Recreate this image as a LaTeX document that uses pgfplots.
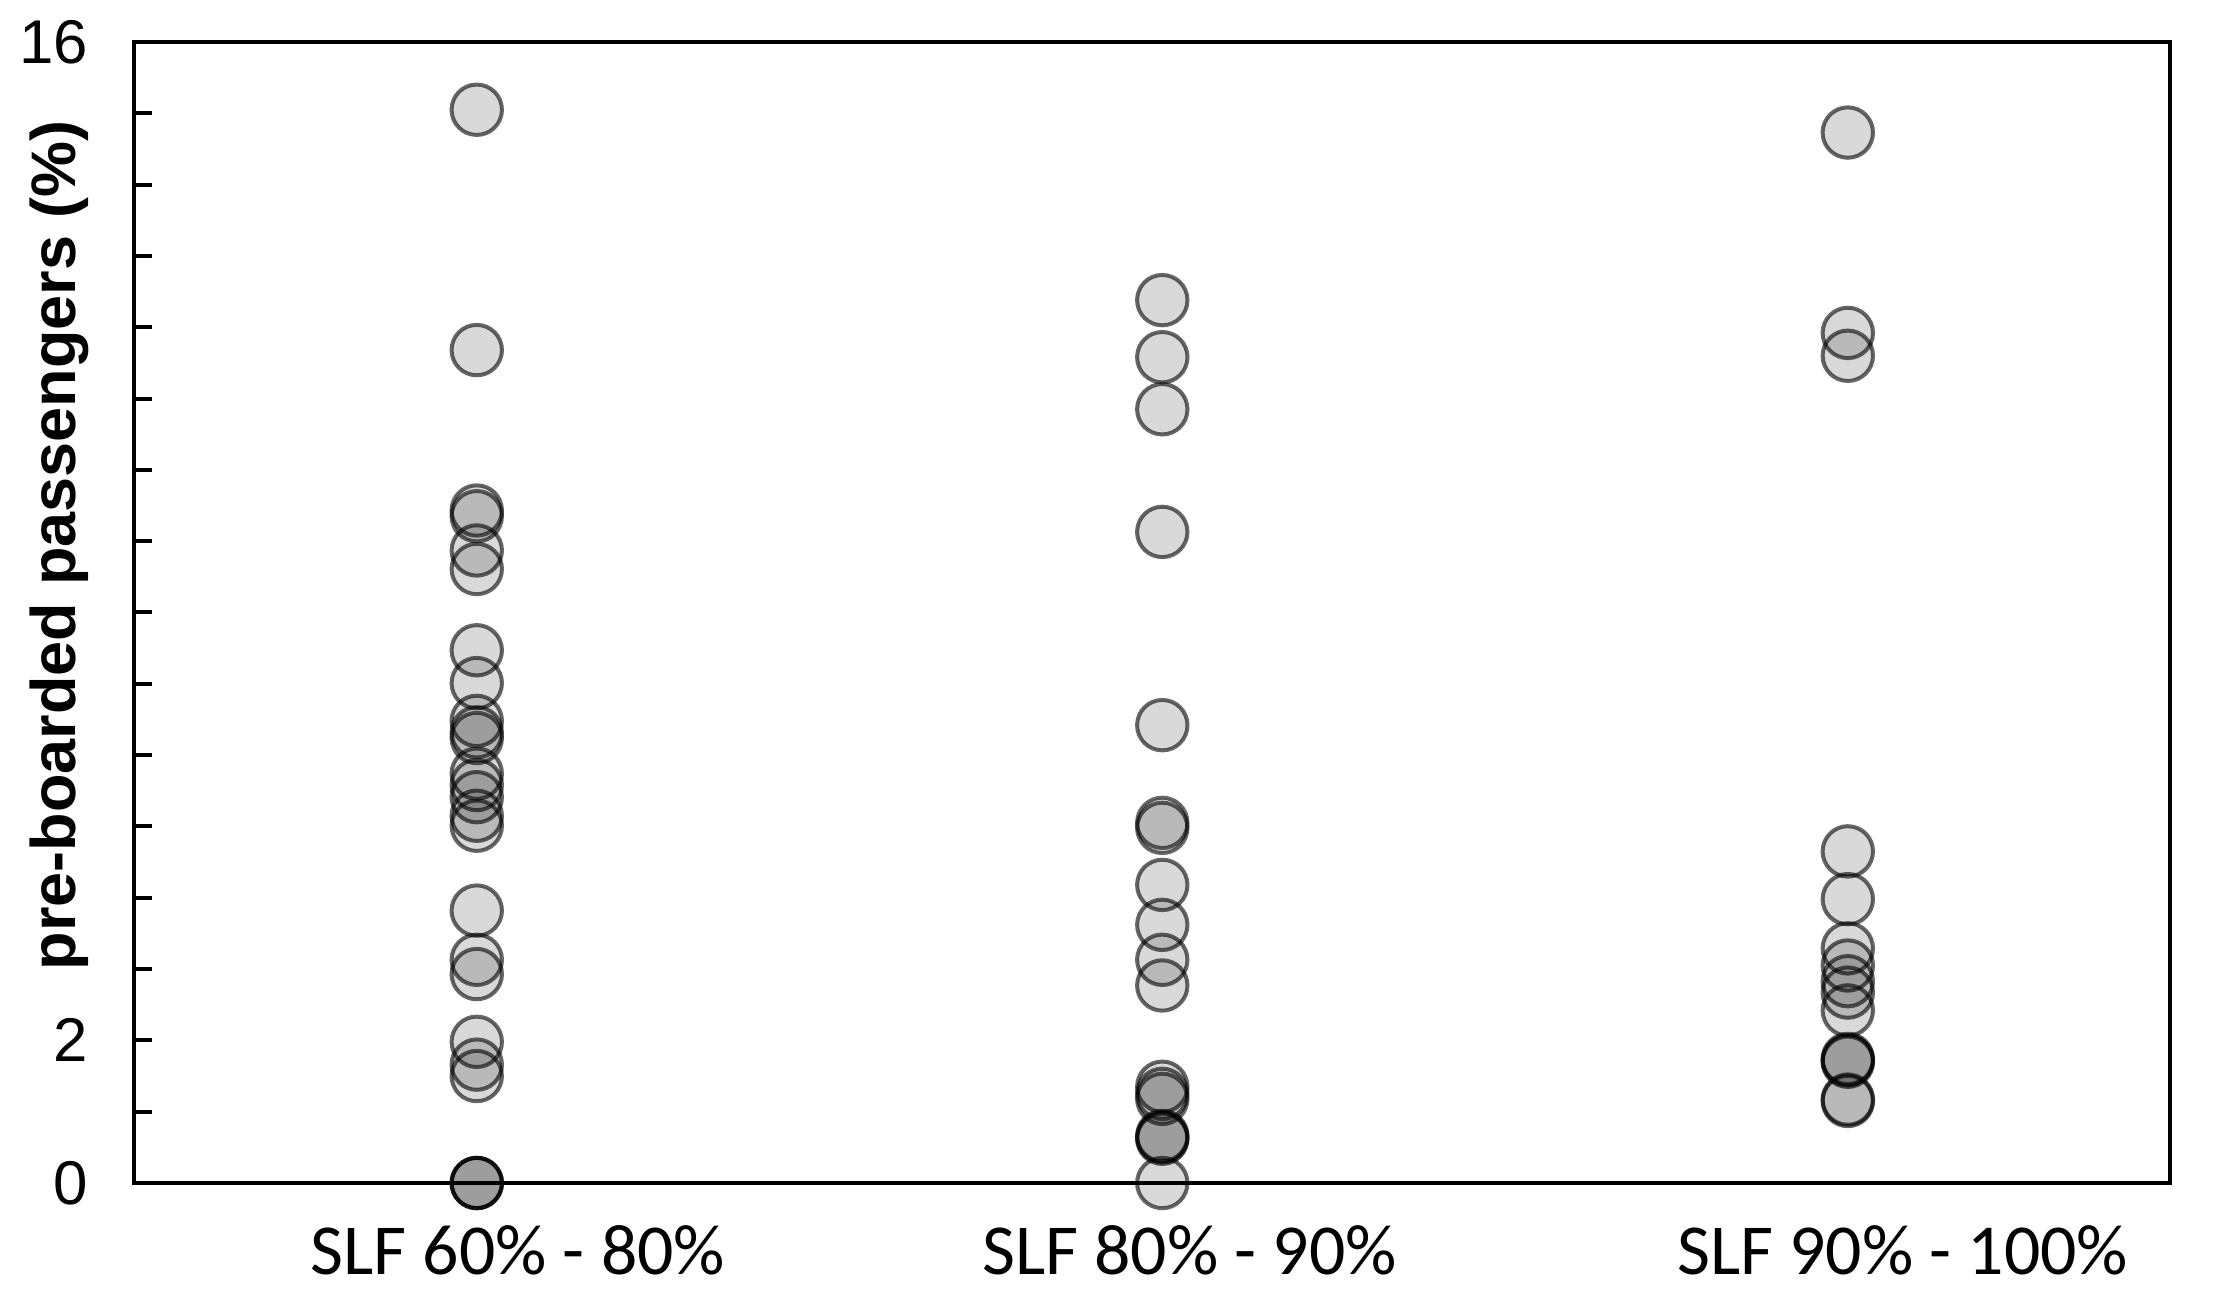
\documentclass[border=0pt]{standalone}
\usepackage{pgfplots}
\pgfplotsset{compat=1.18}
\usepackage{fontspec}
\setmainfont{Liberation Sans}
\newfontfamily\carlito{Carlito}
\pgfplotsset{pt/.style={only marks, mark=*, mark size=6.3bp,
  mark options={fill=black, fill opacity=0.15, draw=black, draw opacity=0.6, line width=1bp}}}
\begin{document}
\begin{tikzpicture}
\begin{axis}[
  scale only axis,
  width=509bp, height=285.25bp,
  xmin=0.5, xmax=3.47,
  ymin=0, ymax=16,
  clip=false,
  axis on top,
  axis line style={line width=1.1bp},
  xtick={1.06,2.04,3.08},
  xticklabels={SLF 60\% - 80\%, SLF 80\% - 90\%, SLF 90\% - 100\%},
  xtick style={draw=none},
  xticklabel style={font=\carlito\fontsize{18}{20}\selectfont, yshift=-7bp},
  ytick={0,1,...,16},
  yticklabels={0,,2,,,,,,,,,,,,,,16},
  ytick pos=left,
  tick align=inside,
  major tick length=4.5bp,
  ytick style={line width=1bp, black},
  yticklabel style={font=\fontsize{15.5}{17}\selectfont, xshift=-8bp},
  /pgf/number format/assume math mode=true,
  ylabel={pre-boarded passengers (\%)},
  ylabel style={at={(axis description cs:-0.0368,0.559)}, anchor=center, font=\bfseries\fontsize{15.8}{18}\selectfont},
]
\addplot[pt] coordinates {
(1,15.05) (1,11.68) (1,9.43) (1,9.35) (1,8.87) (1,8.61) (1,7.47) (1,7.01)
(1,6.48) (1,6.32) (1,6.24) (1,5.74) (1,5.58) (1,5.41) (1,5.15) (1,5.01)
(1,3.82) (1,3.13) (1,2.93) (1,1.98) (1,1.66) (1,1.5) (1,0) (1,0) (1,0)
};
\addplot[pt] coordinates {
(2,12.38) (2,11.58) (2,10.85) (2,9.13) (2,6.42) (2,5.05) (2,4.98) (2,4.18)
(2,3.62) (2,3.13) (2,2.77) (2,1.35) (2,1.25) (2,1.18) (2,0.66) (2,0.64)
(2,0.62) (2,0)
};
\addplot[pt] coordinates {
(3,14.73) (3,11.92) (3,11.6) (3,4.65) (3,3.98) (3,3.29) (3,3.05) (3,2.83)
(3,2.67) (3,2.42) (3,1.74) (3,1.72) (3,1.70) (3,1.17) (3,1.15)
};
\end{axis}
\pgfresetboundingbox
\path ([xshift=-33.5bp,yshift=-28.5bp]current axis.south west) rectangle ([xshift=11bp,yshift=10.5bp]current axis.north east);
\end{tikzpicture}
\end{document}
